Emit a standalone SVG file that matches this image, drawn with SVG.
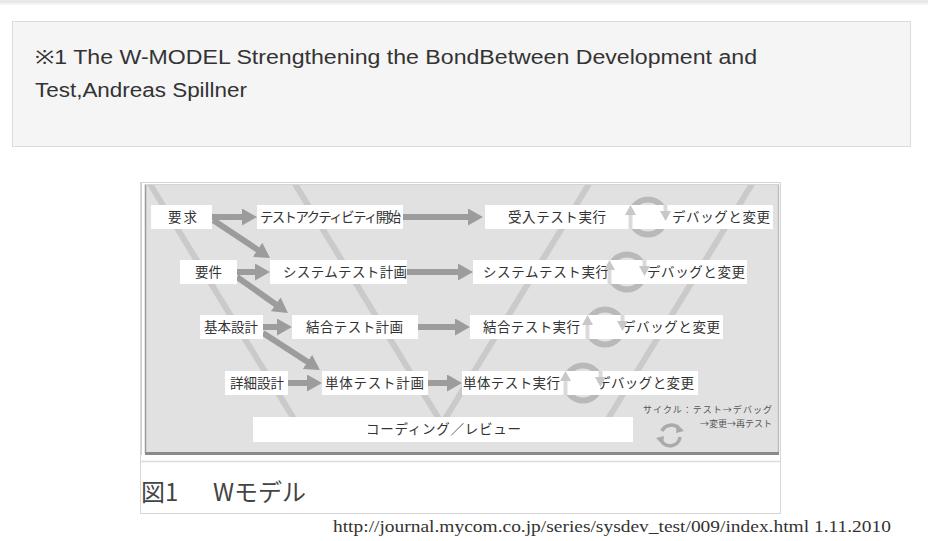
<svg xmlns="http://www.w3.org/2000/svg" width="928" height="541" viewBox="0 0 928 541">
<defs>
<style>
.hdr{font-family:"Liberation Sans","Noto Sans",sans-serif;font-size:19.5px;fill:#333}
.lbl{font-family:"Noto Sans CJK JP","Noto Sans",sans-serif;font-size:13.5px;fill:#333}
.leg{font-family:"Noto Sans CJK JP","Noto Sans",sans-serif;font-size:9px;fill:#555}
.cap{font-family:"Noto Sans CJK JP","Noto Sans",sans-serif;font-size:24px;fill:#444}
.url{font-family:"Liberation Serif","Times New Roman",serif;font-size:17px;fill:#333}
.box{fill:#fff}
.wl{stroke:#cacaca;stroke-width:6;fill:none}
.ar{stroke:#9c9c9c;stroke-width:6;fill:none;marker-end:url(#ah)}
.ring{fill:none;stroke:#b9b9b9;stroke-width:6}
.rh{fill:#c8c8c8}
.rs{stroke:#dadada;stroke-width:4}
</style>
<marker id="ah" markerUnits="userSpaceOnUse" markerWidth="16" markerHeight="17" refX="5" refY="8.5" orient="auto">
<path d="M0,0 L15,8.5 L0,17 z" fill="#9c9c9c"/>
</marker>
<clipPath id="pc"><rect x="146" y="185" width="632" height="267"/></clipPath>
</defs>
<rect x="0" y="0" width="928" height="3" fill="#e8e8e8"/>
<rect x="0" y="3" width="928" height="2" fill="#f4f4f4"/>
<g id="note">
<rect x="12.5" y="21.5" width="898" height="125" fill="#f5f5f5" stroke="#dcdcdc"/>
<text class="hdr" x="35" y="64" textLength="722" lengthAdjust="spacingAndGlyphs">※1 The W-MODEL Strengthening the BondBetween Development and</text>
<text class="hdr" x="35" y="97" textLength="212" lengthAdjust="spacingAndGlyphs">Test,Andreas Spillner</text>
</g>
<g id="frame">
<rect x="140.5" y="182.5" width="640" height="331" fill="#fff" stroke="#d6d6d6"/>
<rect x="145" y="184" width="634" height="269" fill="#e1e1e1"/>
<line x1="141.5" y1="183" x2="141.5" y2="455" stroke="#d0d0d0" stroke-width="1"/>
<line x1="145.5" y1="184" x2="145.5" y2="453" stroke="#9a9a9a" stroke-width="1.5"/>
<line x1="778.5" y1="184" x2="778.5" y2="453" stroke="#bdbdbd" stroke-width="1.5"/>
<line x1="145" y1="184.5" x2="779" y2="184.5" stroke="#d4d4d4" stroke-width="1"/>
<rect x="145" y="452" width="634" height="3" fill="#8a8a8a"/>
<line x1="141" y1="461.5" x2="780" y2="461.5" stroke="#dcdcdc" stroke-width="1.5"/>
</g>
<g id="w-lines" clip-path="url(#pc)">
<line class="wl" x1="150" y1="184" x2="302" y2="432"/>
<line class="wl" x1="295" y1="184" x2="447" y2="432"/>
<line class="wl" x1="589" y1="184" x2="437" y2="432"/>
<line class="wl" x1="752" y1="184" x2="600" y2="432"/>
</g>
<g id="cycle-rings">
<circle class="ring" cx="648" cy="217" r="17.5"/>
<circle class="ring" cx="627" cy="272" r="17.5"/>
<circle class="ring" cx="605" cy="327" r="17.5"/>
<circle class="ring" cx="583" cy="383" r="17.5"/>
</g>
<g id="connectors">
<line class="ar" x1="212" y1="217" x2="247" y2="217"/>
<line class="ar" x1="403" y1="217" x2="473" y2="217"/>
<line class="ar" x1="237" y1="272" x2="260" y2="272"/>
<line class="ar" x1="407" y1="272" x2="463" y2="272"/>
<line class="ar" x1="263" y1="327" x2="282" y2="327"/>
<line class="ar" x1="418" y1="327" x2="460" y2="327"/>
<line class="ar" x1="288" y1="383" x2="312" y2="383"/>
<line class="ar" x1="428" y1="383" x2="452" y2="383"/>
<line class="ar" x1="213" y1="220" x2="261.7" y2="252.5"/>
<line class="ar" x1="237" y1="277" x2="279.8" y2="307.2"/>
<line class="ar" x1="263" y1="333" x2="311.6" y2="364.6"/>
</g>
<g id="n-youkyu"><rect class="box" x="151" y="205" width="61" height="24"/><text class="lbl" x="168" y="222" textLength="29" lengthAdjust="spacing">要求</text></g>
<g id="n-test-start"><rect class="box" x="257" y="205" width="146" height="24"/><text class="lbl" x="260" y="222" textLength="141" lengthAdjust="spacing">テストアクティビティ開始</text></g>
<g id="n-accept-exec"><rect class="box" x="485" y="205" width="288" height="24"/><text class="lbl" x="508" y="222" textLength="98" lengthAdjust="spacing">受入テスト実行</text></g>
<g id="n-debug1"><text class="lbl" x="672" y="222" textLength="98" lengthAdjust="spacing">デバッグと変更</text></g>

<g id="n-youken"><rect class="box" x="180" y="260" width="57" height="24"/><text class="lbl" x="195" y="277" textLength="27" lengthAdjust="spacing">要件</text></g>
<g id="n-sys-plan"><rect class="box" x="270" y="260" width="137" height="24"/><text class="lbl" x="283" y="277" textLength="124" lengthAdjust="spacing">システムテスト計画</text></g>
<g id="n-sys-exec"><rect class="box" x="473" y="260" width="274" height="24"/><text class="lbl" x="483" y="277" textLength="126" lengthAdjust="spacing">システムテスト実行</text></g>
<g id="n-debug2"><text class="lbl" x="647" y="277" textLength="98" lengthAdjust="spacing">デバッグと変更</text></g>

<g id="n-kihon"><rect class="box" x="200" y="315" width="63" height="24"/><text class="lbl" x="204" y="332" textLength="54" lengthAdjust="spacing">基本設計</text></g>
<g id="n-int-plan"><rect class="box" x="292" y="315" width="126" height="24"/><text class="lbl" x="306" y="332" textLength="97" lengthAdjust="spacing">結合テスト計画</text></g>
<g id="n-int-exec"><rect class="box" x="470" y="315" width="253" height="24"/><text class="lbl" x="483" y="332" textLength="97" lengthAdjust="spacing">結合テスト実行</text></g>
<g id="n-debug3"><text class="lbl" x="622" y="332" textLength="98" lengthAdjust="spacing">デバッグと変更</text></g>

<g id="n-shousai"><rect class="box" x="225" y="371" width="63" height="24"/><text class="lbl" x="230" y="388" textLength="54" lengthAdjust="spacing">詳細設計</text></g>
<g id="n-unit-plan"><rect class="box" x="322" y="371" width="106" height="24"/><text class="lbl" x="325" y="388" textLength="99" lengthAdjust="spacing">単体テスト計画</text></g>
<g id="n-unit-exec"><rect class="box" x="462" y="371" width="236" height="24"/><text class="lbl" x="463" y="388" textLength="97" lengthAdjust="spacing">単体テスト実行</text></g>
<g id="n-debug4"><text class="lbl" x="597" y="388" textLength="97" lengthAdjust="spacing">デバッグと変更</text></g>

<g id="n-coding"><rect class="box" x="253" y="417" width="380" height="25"/><text class="lbl" x="366" y="434" textLength="155" lengthAdjust="spacing">コーディング／レビュー</text></g>

<g id="cycle-heads">
<line class="rs" x1="630.5" y1="214" x2="630.5" y2="229"/><polygon class="rh" points="625,215 636,215 630.5,205"/>
<line class="rs" x1="665.5" y1="205" x2="665.5" y2="212"/><polygon class="rh" points="660,211 671,211 665.5,221"/>
<line class="rs" x1="609.5" y1="269" x2="609.5" y2="284"/><polygon class="rh" points="604,270 615,270 609.5,260"/>
<line class="rs" x1="644.5" y1="260" x2="644.5" y2="267"/><polygon class="rh" points="639,266 650,266 644.5,276"/>
<line class="rs" x1="587.5" y1="324" x2="587.5" y2="339"/><polygon class="rh" points="582,325 593,325 587.5,315"/>
<line class="rs" x1="622.5" y1="315" x2="622.5" y2="322"/><polygon class="rh" points="617,321 628,321 622.5,331"/>
<line class="rs" x1="565.5" y1="380" x2="565.5" y2="395"/><polygon class="rh" points="560,381 571,381 565.5,371"/>
<line class="rs" x1="600.5" y1="371" x2="600.5" y2="378"/><polygon class="rh" points="595,377 606,377 600.5,387"/>
</g>
<g id="legend">
<text class="leg" x="643" y="413" textLength="129" lengthAdjust="spacing">サイクル：テスト→デバッグ</text>
<text class="leg" x="772" y="426.5" text-anchor="end">→変更→再テスト</text>
<path d="M662,431 A10,10 0 0 1 679,429" fill="none" stroke="#aaa" stroke-width="3.5"/>
<path d="M680,437 A10,10 0 0 1 661,440" fill="none" stroke="#aaa" stroke-width="3.5"/>
<polygon points="677,424 684,431 676,433" fill="#aaa"/>
<polygon points="663,445 656,438 664,436" fill="#aaa"/>
</g>
<g id="caption">
<text class="cap" x="141" y="501">図1<tspan x="213">Wモデル</tspan></text>
</g>
<text class="url" x="333" y="532" textLength="558" lengthAdjust="spacingAndGlyphs">http://journal.mycom.co.jp/series/sysdev_test/009/index.html 1.11.2010</text>
</svg>
